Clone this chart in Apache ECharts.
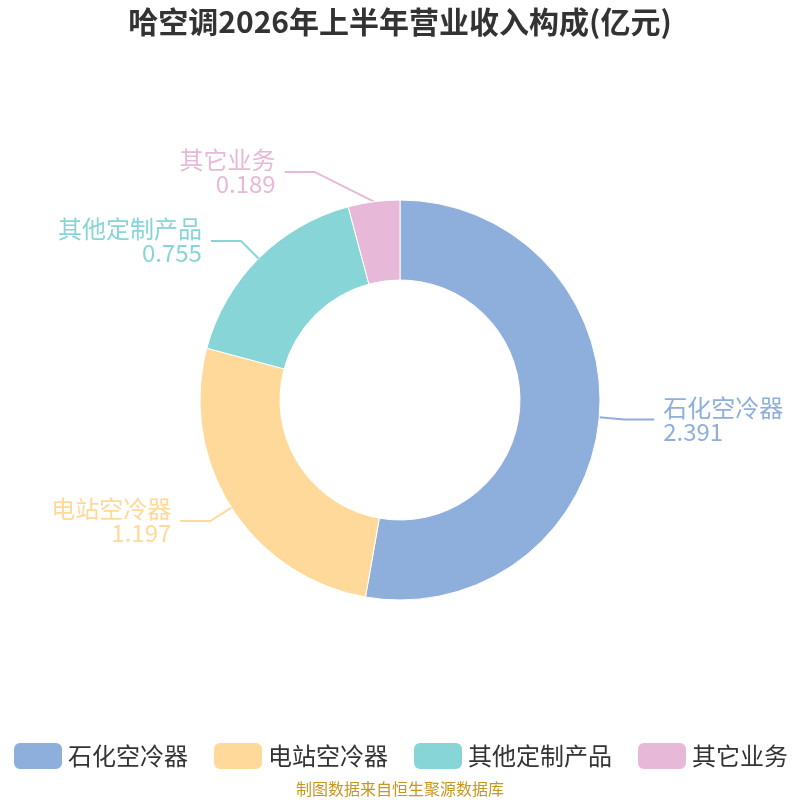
<!DOCTYPE html>
<html>
<head>
<meta charset="utf-8">
<script src="https://cdn.jsdelivr.net/npm/echarts@6/dist/echarts.min.js"></script>
<style>
  html, body { margin: 0; padding: 0; background: #fff; }
  #chart { width: 800px; height: 800px; }
</style>
</head>
<body>
<div id="chart"></div>
<script>
var titleText = '哈空调2026年上半年营业收入构成(亿元)';
var categories = ['石化空冷器', '电站空冷器', '其他定制产品', '其它业务'];
var values = [2.391, 1.197, 0.755, 0.189];
var colors = ['#8eaedb', '#ffd999', '#88d5d7', '#e8b8d8'];
var sourceText = '制图数据来自恒生聚源数据库';

var chart = echarts.init(document.getElementById('chart'));
var pieData = categories.map(function (name, i) {
    return {
        name: name,
        value: values[i],
        label: { color: colors[i] },
        labelLine: { lineStyle: { color: colors[i] } }
    };
});

// the smallest slice's label sits further left, as in the original layout
function shiftSmallLabel(params) {
    if (params.dataIndex !== 3 || !params.labelLinePoints) return {};
    var dx = -56, dy = -5;
    var p = params.labelLinePoints;
    return {
        dx: dx,
        dy: dy,
        labelLinePoints: [
            [p[0][0], p[0][1]],
            [p[1][0] + dx, p[1][1] + dy],
            [p[2][0] + dx, p[2][1] + dy]
        ]
    };
}

var option = {
    color: colors,
    textStyle: { fontFamily: 'Noto Sans CJK SC' },
    title: [{
        text: titleText,
        left: 'center',
        top: 2,
        textStyle: { fontSize: 30, fontWeight: 'bold', color: '#333' }
    }, {
        text: sourceText,
        left: 'center',
        top: 776,
        textStyle: { fontSize: 16, fontWeight: 'normal', color: '#c8961e' }
    }],
    legend: {
        data: categories,
        top: 736,
        left: 'center',
        itemWidth: 50,
        itemHeight: 28,
        itemGap: 24,
        icon: 'roundRect',
        textStyle: { fontSize: 24, color: '#333' }
    },
    series: [{
        type: 'pie',
        center: ['50%', '50%'],
        radius: ['30%', '50%'],
        data: pieData,
        itemStyle: { borderColor: '#fff', borderWidth: 1 },
        label: {
            formatter: '{b}\n{c}',
            fontSize: 24,
            lineHeight: 24,
            distanceToLabelLine: 9
        },
        labelLine: { length: 25, length2: 30, lineStyle: { width: 2 } },
        labelLayout: shiftSmallLabel
    }]
};
chart.setOption(option);
</script>
</body>
</html>
